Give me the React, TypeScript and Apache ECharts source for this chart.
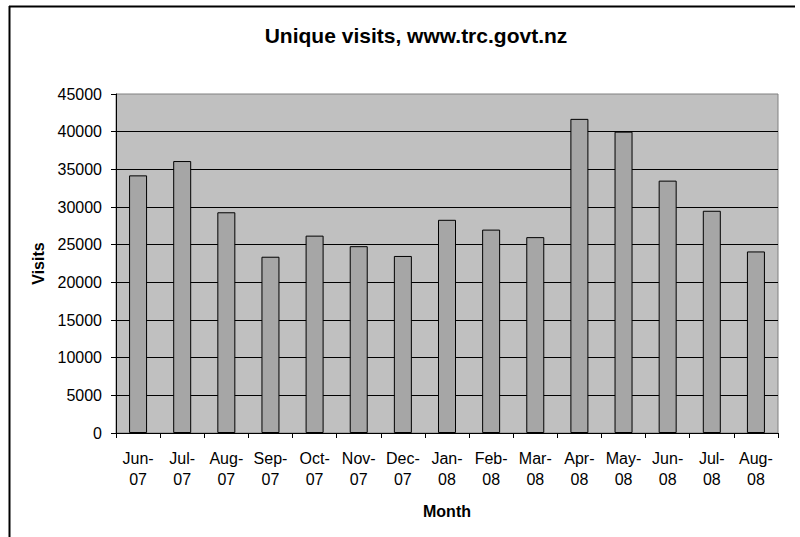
import React, { useEffect, useRef } from "react";
import * as echarts from "echarts";

const months = [
  "Jun-07", "Jul-07", "Aug-07", "Sep-07", "Oct-07", "Nov-07", "Dec-07",
  "Jan-08", "Feb-08", "Mar-08", "Apr-08", "May-08", "Jun-08", "Jul-08", "Aug-08",
];
const visits = [
  34200, 36100, 29300, 23400, 26200, 24800, 23500,
  28300, 27000, 26000, 41700, 40000, 33500, 29500, 24100,
];
const titleText = "Unique visits, www.trc.govt.nz";
const xName = "Month";
const yName = "Visits";

const FONT = "'Liberation Sans', Arial, sans-serif";

export default function App() {
  const ref = useRef<HTMLDivElement>(null);
  useEffect(() => {
    if (!ref.current) return;
    const chart = echarts.init(ref.current, undefined, { renderer: "svg" });
    chart.setOption({
      animation: false,
      backgroundColor: "#ffffff",
      textStyle: { fontFamily: FONT },
      title: {
        text: titleText,
        left: 411,
        textAlign: "center",
        top: 20,
        textStyle: { fontFamily: FONT, fontSize: 21, fontWeight: "bold", color: "#000" },
      },
      graphic: [
        { type: "line", shape: { x1: 9, y1: 6.5, x2: 795, y2: 6.5 }, style: { stroke: "#000", lineWidth: 2 } },
        { type: "line", shape: { x1: 9.5, y1: 6, x2: 9.5, y2: 537 }, style: { stroke: "#000", lineWidth: 2 } },
      ],
      grid: {
        left: 116,
        right: 22,
        top: 94,
        bottom: 104,
        show: true,
        backgroundColor: "#C0C0C0",
        borderColor: "#808080",
        borderWidth: 1,
      },
      xAxis: {
        type: "category",
        data: months,
        name: xName,
        nameLocation: "middle",
        nameGap: 70,
        nameTextStyle: { fontFamily: FONT, fontSize: 16, fontWeight: "bold", color: "#000" },
        axisLine: { show: true, lineStyle: { color: "#000", width: 1 } },
        axisTick: { show: true, length: 5, lineStyle: { color: "#000" } },
        axisLabel: {
          interval: 0,
          margin: 15,
          fontFamily: FONT,
          fontSize: 16,
          lineHeight: 21,
          color: "#000",
          formatter: (v: string) => v.replace("-", "-\n"),
        },
        splitLine: { show: false },
      },
      yAxis: {
        type: "value",
        min: 0,
        max: 45000,
        interval: 5000,
        name: yName,
        nameLocation: "middle",
        nameGap: 66,
        nameTextStyle: { fontFamily: FONT, fontSize: 16, fontWeight: "bold", color: "#000" },
        axisLine: { show: true, lineStyle: { color: "#000", width: 1 } },
        axisTick: { show: true, length: 5, lineStyle: { color: "#000" } },
        axisLabel: {
          margin: 14,
          fontFamily: FONT,
          fontSize: 16,
          color: "#000",
          formatter: (v: number) => String(v),
        },
        splitLine: { show: true, showMaxLine: false, lineStyle: { color: "#000", width: 1 } },
      },
      series: [
        {
          type: "bar",
          data: visits,
          barWidth: 18,
          itemStyle: { color: "#A6A6A6", borderColor: "#000", borderWidth: 1 },
        },
      ],
    });
    return () => chart.dispose();
  }, []);
  return (
    <div
      ref={ref}
      style={{ position: "fixed", left: 0, top: 0, width: 800, height: 537 }}
    />
  );
}
